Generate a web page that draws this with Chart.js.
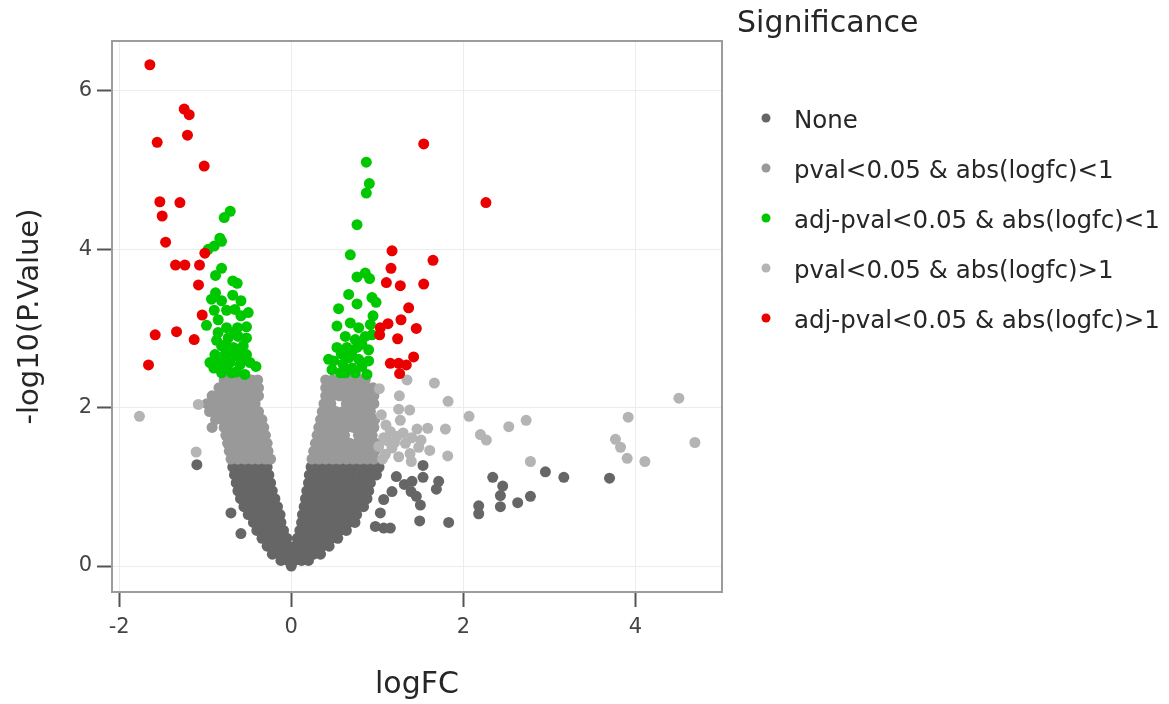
<!DOCTYPE html>
<html>
<head>
<meta charset="utf-8">
<script src="https://cdn.jsdelivr.net/npm/chart.js@4.4.1/dist/chart.umd.min.js"></script>
<style>
  body { margin: 0; background: #fff; }
  canvas { display: block; }
</style>
</head>
<body>
<canvas id="chart" width="1169" height="704"></canvas>
<script>
// values, [logFC, -log10(p)]
var xTicks = [-2, 0, 2, 4];
var yTicks = [0, 2, 4, 6];
var labels = ["None", "pval<0.05 & abs(logfc)<1", "adj-pval<0.05 & abs(logfc)<1",
              "pval<0.05 & abs(logfc)>1", "adj-pval<0.05 & abs(logfc)>1"];
var colors = ['#666666', '#999999', 'rgb(0,200,0)', '#b4b4b4', 'rgb(235,0,0)'];

var nonePts = [
  // left arm
  [-0.68,1.25],[-0.60,1.25],[-0.52,1.25],[-0.44,1.25],[-0.36,1.25],[-0.28,1.25],
  [-0.66,1.15],[-0.58,1.15],[-0.50,1.15],[-0.42,1.15],[-0.34,1.15],[-0.26,1.15],
  [-0.64,1.05],[-0.56,1.05],[-0.48,1.05],[-0.40,1.05],[-0.32,1.05],[-0.24,1.05],
  [-0.62,0.95],[-0.54,0.95],[-0.46,0.95],[-0.38,0.95],[-0.30,0.95],[-0.22,0.95],
  [-0.59,0.85],[-0.51,0.85],[-0.43,0.85],[-0.35,0.85],[-0.27,0.85],[-0.19,0.85],
  [-0.55,0.75],[-0.47,0.75],[-0.39,0.75],[-0.31,0.75],[-0.23,0.75],[-0.16,0.75],
  [-0.50,0.65],[-0.42,0.65],[-0.34,0.65],[-0.26,0.65],[-0.18,0.65],[-0.13,0.65],
  [-0.44,0.55],[-0.36,0.55],[-0.28,0.55],[-0.20,0.55],[-0.12,0.55],
  [-0.40,0.45],[-0.32,0.45],[-0.24,0.45],[-0.16,0.45],[-0.09,0.45],
  [-0.34,0.35],[-0.26,0.35],[-0.18,0.35],[-0.10,0.35],[-0.05,0.35],
  [-0.28,0.25],[-0.20,0.25],[-0.12,0.25],[-0.04,0.25],
  [-0.22,0.15],[-0.14,0.15],[-0.06,0.15],[0.02,0.15],
  [-0.12,0.07],[-0.04,0.07],[0.04,0.07],[0.00,0.00],
  // right arm
  [0.23,1.25],[0.31,1.25],[0.39,1.25],[0.47,1.25],[0.55,1.25],[0.63,1.25],[0.71,1.25],[0.79,1.25],[0.87,1.25],[0.95,1.25],[1.02,1.25],
  [0.21,1.15],[0.29,1.15],[0.37,1.15],[0.45,1.15],[0.53,1.15],[0.61,1.15],[0.69,1.15],[0.77,1.15],[0.85,1.15],[0.93,1.15],[0.99,1.15],
  [0.20,1.05],[0.28,1.05],[0.36,1.05],[0.44,1.05],[0.52,1.05],[0.60,1.05],[0.68,1.05],[0.76,1.05],[0.84,1.05],[0.92,1.05],
  [0.18,0.95],[0.26,0.95],[0.34,0.95],[0.42,0.95],[0.50,0.95],[0.58,0.95],[0.66,0.95],[0.74,0.95],[0.82,0.95],[0.90,0.95],
  [0.165,0.85],[0.24,0.85],[0.32,0.85],[0.40,0.85],[0.48,0.85],[0.56,0.85],[0.64,0.85],[0.72,0.85],[0.80,0.85],[0.88,0.85],
  [0.15,0.75],[0.22,0.75],[0.30,0.75],[0.38,0.75],[0.46,0.75],[0.54,0.75],[0.62,0.75],[0.70,0.75],[0.78,0.75],[0.84,0.75],
  [0.13,0.65],[0.20,0.65],[0.28,0.65],[0.36,0.65],[0.44,0.65],[0.52,0.65],[0.60,0.65],[0.68,0.65],[0.76,0.65],
  [0.12,0.55],[0.19,0.55],[0.27,0.55],[0.35,0.55],[0.43,0.55],[0.51,0.55],[0.59,0.55],[0.67,0.55],[0.74,0.55],
  [0.10,0.45],[0.17,0.45],[0.25,0.45],[0.33,0.45],[0.41,0.45],[0.49,0.45],[0.57,0.45],[0.64,0.45],
  [0.07,0.35],[0.14,0.35],[0.22,0.35],[0.30,0.35],[0.38,0.35],[0.46,0.35],[0.54,0.35],
  [0.04,0.25],[0.12,0.25],[0.20,0.25],[0.28,0.25],[0.36,0.25],[0.44,0.25],
  [0.10,0.15],[0.18,0.15],[0.26,0.15],[0.34,0.15],
  [0.12,0.07],[0.20,0.07],
  // scattered
  [-1.097,1.28],[-0.701,0.67],[-0.585,0.41],
  [1.531,1.27],[1.531,1.12],[1.221,1.13],[1.314,1.03],[1.403,1.07],[1.713,1.07],[1.686,0.97],
  [1.392,0.94],[1.453,0.88],[1.500,0.77],[1.492,0.57],[1.829,0.55],[2.341,1.12],[2.457,1.01],
  [2.430,0.89],[2.430,0.75],[2.178,0.76],[2.178,0.66],[2.631,0.80],[2.779,0.88],[1.170,0.94],
  [1.074,0.84],[1.035,0.67],[0.977,0.50],[1.074,0.48],[1.151,0.48],[2.953,1.19],[3.167,1.12],
  [3.698,1.11]
];

var pvalSmallPts = [
  // left
  [-0.78,2.35],[-0.70,2.35],[-0.62,2.35],[-0.54,2.35],[-0.46,2.35],[-0.39,2.35],
  [-0.84,2.25],[-0.76,2.25],[-0.68,2.25],[-0.60,2.25],[-0.52,2.25],[-0.44,2.25],[-0.38,2.25],
  [-0.92,2.15],[-0.84,2.15],[-0.76,2.15],[-0.68,2.15],[-0.60,2.15],[-0.52,2.15],[-0.44,2.15],[-0.38,2.15],
  [-0.98,2.05],[-0.90,2.05],[-0.82,2.05],[-0.74,2.05],[-0.66,2.05],[-0.58,2.05],[-0.50,2.05],[-0.42,2.05],
  [-0.95,1.95],[-0.86,1.95],[-0.78,1.95],[-0.70,1.95],[-0.62,1.95],[-0.54,1.95],[-0.46,1.95],[-0.38,1.95],
  [-0.88,1.85],[-0.80,1.85],[-0.72,1.85],[-0.64,1.85],[-0.56,1.85],[-0.48,1.85],[-0.40,1.85],[-0.34,1.85],
  [-0.92,1.75],[-0.78,1.75],[-0.70,1.75],[-0.62,1.75],[-0.54,1.75],[-0.46,1.75],[-0.38,1.75],[-0.32,1.75],
  [-0.76,1.65],[-0.68,1.65],[-0.60,1.65],[-0.52,1.65],[-0.44,1.65],[-0.36,1.65],[-0.30,1.65],
  [-0.74,1.55],[-0.66,1.55],[-0.58,1.55],[-0.50,1.55],[-0.42,1.55],[-0.34,1.55],[-0.28,1.55],
  [-0.72,1.45],[-0.64,1.45],[-0.56,1.45],[-0.48,1.45],[-0.40,1.45],[-0.32,1.45],[-0.27,1.45],
  [-0.70,1.35],[-0.62,1.35],[-0.54,1.35],[-0.46,1.35],[-0.38,1.35],[-0.30,1.35],[-0.24,1.35],
  // right
  [0.40,2.35],[0.48,2.35],[0.56,2.35],[0.64,2.35],[0.72,2.35],[0.80,2.35],[0.86,2.35],
  [0.40,2.25],[0.48,2.25],[0.56,2.25],[0.64,2.25],[0.72,2.25],[0.80,2.25],[0.88,2.25],[0.95,2.25],
  [0.40,2.15],[0.48,2.15],[0.56,2.15],[0.64,2.15],[0.72,2.15],[0.80,2.15],[0.88,2.15],[0.96,2.15],
  [0.38,2.05],[0.46,2.05],[0.64,2.05],[0.72,2.05],[0.80,2.05],[0.88,2.05],[0.96,2.05],
  [0.36,1.95],[0.44,1.95],[0.52,1.95],[0.60,1.95],[0.68,1.95],[0.76,1.95],[0.84,1.95],[0.92,1.95],
  [0.34,1.85],[0.42,1.85],[0.50,1.85],[0.58,1.85],[0.66,1.85],[0.74,1.85],[0.82,1.85],[0.90,1.85],[0.97,1.85],
  [0.32,1.75],[0.40,1.75],[0.48,1.75],[0.56,1.75],[0.64,1.75],[0.72,1.75],[0.80,1.75],[0.88,1.75],[0.96,1.75],
  [0.30,1.65],[0.38,1.65],[0.46,1.65],[0.54,1.65],[0.62,1.65],[0.78,1.65],[0.86,1.65],[0.94,1.65],
  [0.28,1.55],[0.36,1.55],[0.44,1.55],[0.52,1.55],[0.60,1.55],[0.68,1.55],[0.76,1.55],[0.84,1.55],[0.92,1.55],[0.98,1.55],
  [0.26,1.45],[0.34,1.45],[0.42,1.45],[0.50,1.45],[0.58,1.45],[0.66,1.45],[0.74,1.45],[0.82,1.45],[0.90,1.45],[0.97,1.45],
  [0.24,1.35],[0.32,1.35],[0.40,1.35],[0.48,1.35],[0.56,1.35],[0.64,1.35],[0.72,1.35],[0.80,1.35],[0.88,1.35],[0.96,1.35]
];

var adjSmallPts = [
  [-0.709,4.48],[-0.779,4.40],[-0.830,4.14],[-0.810,4.10],[-0.895,4.04],[-0.965,4.00],[-0.810,3.76],
  [-0.880,3.67],[-0.680,3.60],[-0.628,3.57],[-0.880,3.45],[-0.680,3.42],[-0.927,3.37],[-0.810,3.35],
  [-0.585,3.35],[-0.895,3.23],[-0.752,3.23],[-0.655,3.24],[-0.500,3.20],[-0.585,3.16],[-0.849,3.11],
  [-0.985,3.04],[-0.752,3.01],[-0.624,3.01],[-0.520,3.02],[-0.868,2.85],[-0.733,2.88],[-0.616,2.90],
  [-0.520,2.88],[-0.810,2.78],[-0.674,2.76],[-0.558,2.78],[-0.887,2.67],[-0.771,2.67],[-0.636,2.65],
  [-0.520,2.67],[-0.945,2.57],[-0.829,2.57],[-0.713,2.57],[-0.597,2.54],[-0.480,2.57],[-0.410,2.52],
  [-0.810,2.44],[-0.694,2.44],[-0.539,2.42],[-0.900,2.50],[-0.750,2.50],[-0.640,2.45],[-0.580,2.60],
  [-0.700,2.70],[-0.850,2.95],[-0.660,2.95],[-0.760,2.80],[-0.600,2.74],
  [0.872,5.10],[0.907,4.83],[0.872,4.71],[0.764,4.31],[0.686,3.93],[0.764,3.65],[0.860,3.70],
  [0.910,3.63],[0.667,3.43],[0.764,3.31],[0.938,3.39],[0.985,3.33],[0.550,3.25],[0.950,3.16],
  [0.531,3.03],[0.686,3.07],[0.783,3.01],[0.919,3.05],[0.628,2.90],[0.744,2.86],[0.860,2.90],
  [0.938,2.92],[0.531,2.76],[0.647,2.76],[0.764,2.76],[0.899,2.73],[0.434,2.61],[0.492,2.59],
  [0.667,2.63],[0.783,2.61],[0.899,2.59],[0.473,2.48],[0.628,2.44],[0.744,2.44],[0.880,2.42],
  [0.706,2.50],[0.570,2.44],[0.600,2.55],[0.820,2.52],[0.700,2.68],[0.580,2.68],[0.820,2.80]
];

var pvalLargePts = [
  [-1.764,1.89],[-1.105,1.44],[-1.080,2.04],
  [1.345,2.35],[1.663,2.31],[1.023,2.24],[1.256,2.15],[1.822,2.08],[1.248,1.98],[1.376,1.97],
  [1.047,1.91],[1.267,1.84],[2.066,1.89],[2.527,1.76],[2.729,1.84],[1.461,1.73],[1.585,1.74],
  [1.791,1.73],[2.198,1.66],[2.267,1.59],[1.151,1.70],[1.074,1.62],[1.229,1.64],[1.326,1.55],
  [1.508,1.59],[1.481,1.50],[1.016,1.51],[1.170,1.49],[1.609,1.46],[1.093,1.41],[1.248,1.38],
  [1.395,1.32],[1.818,1.39],[2.779,1.32],[4.504,2.12],[3.915,1.88],[4.690,1.56],[3.767,1.60],
  [3.826,1.50],[3.903,1.36],[4.109,1.32],[1.120,1.58],[1.200,1.56],[1.300,1.68],[1.100,1.78],
  [1.380,1.42],[1.060,1.35],[1.400,1.62]
];

var adjLargePts = [
  [-1.643,6.33],[-1.244,5.77],[-1.186,5.70],[-1.206,5.44],[-1.558,5.35],
  [-1.012,5.05],[-1.527,4.60],[-1.294,4.59],[-1.500,4.42],[-1.460,4.09],
  [-1.004,3.95],[-1.345,3.80],[-1.236,3.80],[-1.066,3.80],[-1.078,3.55],
  [-1.035,3.17],[-1.581,2.92],[-1.333,2.96],[-1.128,2.86],[-1.659,2.54],
  [1.539,5.33],[2.262,4.59],[1.171,3.98],[1.647,3.86],[1.159,3.76],
  [1.105,3.58],[1.267,3.54],[1.539,3.56],[1.364,3.26],[1.275,3.11],
  [1.124,3.06],[1.035,3.01],[1.027,2.92],[1.453,3.00],[1.236,2.87],
  [1.422,2.64],[1.151,2.56],[1.248,2.56],[1.337,2.54],[1.259,2.43]
];

function toPts(arr) {
    return arr.map(function(p) { return {x: p[0], y: p[1]}; });
}

var series = [nonePts, pvalSmallPts, adjSmallPts, pvalLargePts, adjLargePts];
var drawOrder = [5, 4, 3, 2, 1];   // None at the bottom, red on top

var fontFamily = '"DejaVu Sans", Verdana, sans-serif';
Chart.defaults.font.family = fontFamily;

var framePlugin = {
    id: 'frame',
    beforeDatasetsDraw: function(chart) {
        var a = chart.chartArea, ctx = chart.ctx;
        ctx.save();
        ctx.strokeStyle = '#9c9c9c';
        ctx.lineWidth = 2;
        ctx.strokeRect(a.left, a.top, a.right - a.left, a.bottom - a.top);
        ctx.restore();
    }
};

var legendPlugin = {
    id: 'sigLegend',
    afterDraw: function(chart) {
        var ctx = chart.ctx;
        ctx.save();
        ctx.textBaseline = 'alphabetic';
        ctx.fillStyle = '#262626';
        ctx.font = '30px ' + fontFamily;
        ctx.fillText('Significance', 737, 32);
        ctx.font = '24.5px ' + fontFamily;
        chart.data.datasets.forEach(function(ds, i) {
            var y = 118 + i * 50;
            ctx.beginPath();
            ctx.arc(766, y, 4.5, 0, Math.PI * 2);
            ctx.fillStyle = ds.backgroundColor;
            ctx.fill();
            ctx.fillStyle = '#262626';
            ctx.fillText(ds.label, 794, y + 10);
        });
        ctx.restore();
    }
};

var ctx = document.getElementById("chart").getContext('2d');
var mychart = new Chart(ctx, {
    type: 'scatter',
    data: {
        datasets: series.map(function(s, i) {
            return {
                label: labels[i],
                data: toPts(s),
                backgroundColor: colors[i],
                borderWidth: 0,
                pointRadius: 5.5,
                pointHoverRadius: 5.5,
                order: drawOrder[i]
            };
        })
    },
    options: {
        responsive: false,
        animation: false,
        layout: { padding: { left: 0, top: 41, right: 447, bottom: 0 } },
        plugins: {
            legend: { display: false },
            tooltip: { enabled: false }
        },
        scales: {
            x: {
                type: 'linear',
                min: -2.083,
                max: 5.005,
                afterBuildTicks: function(s) { s.ticks = xTicks.map(function(v) { return {value: v}; }); },
                afterFit: function(s) { s.height = 112; },
                border: { display: false },
                grid: { color: '#ececec', lineWidth: 1, tickLength: 15, tickColor: '#555', tickWidth: 2 },
                ticks: { font: { size: 21 }, color: '#444', padding: 8, maxRotation: 0 },
                title: { display: true, text: 'logFC', font: { size: 30 }, color: '#262626', padding: { top: 0, bottom: 1 } }
            },
            y: {
                type: 'linear',
                min: -0.328,
                max: 6.63,
                afterBuildTicks: function(s) { s.ticks = yTicks.map(function(v) { return {value: v}; }); },
                afterFit: function(s) { s.width = 112; },
                border: { display: false },
                grid: { color: '#ececec', lineWidth: 1, tickLength: 15, tickColor: '#555', tickWidth: 2 },
                ticks: { font: { size: 21 }, color: '#444', padding: 5 },
                title: { display: true, text: '-log10(P.Value)', font: { size: 29 }, color: '#262626', padding: { top: 13, bottom: 0 } }
            }
        }
    },
    plugins: [framePlugin, legendPlugin]
});
</script>
</body>
</html>
